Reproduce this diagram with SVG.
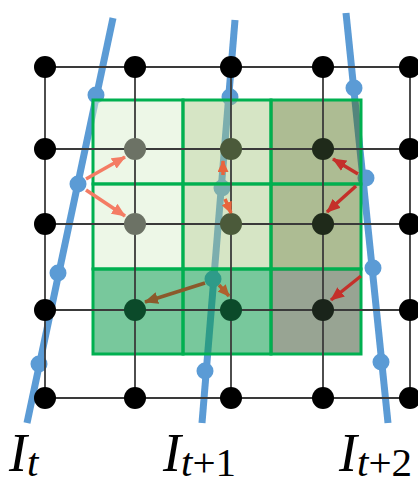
<svg xmlns="http://www.w3.org/2000/svg" width="418" height="481" viewBox="0 0 418 481">
<style>
.bl{stroke:#5b9bd5;stroke-width:7;fill:none}
.bd{fill:#5b9bd5}
.cell{stroke:#00b050;stroke-width:3}
.grid{stroke:#3a3a3a;stroke-width:1.8;fill:none}
.dot{stroke:none}
.arr{fill:none;stroke-width:3.5}
.lbl{font-family:"Liberation Serif","Times New Roman",serif;font-size:54px;font-style:italic;fill:#000}
.sub{font-size:41px}
.up{font-style:normal}
</style>
<defs>
<marker id="hS" markerUnits="userSpaceOnUse" markerWidth="14" markerHeight="12" refX="13" refY="6" orient="auto"><path d="M0,0 L14,6 L0,12 z" fill="#f47c64"/></marker>
<marker id="hO" markerUnits="userSpaceOnUse" markerWidth="12" markerHeight="11" refX="11" refY="5.5" orient="auto"><path d="M0,0 L12,5.5 L0,11 z" fill="#e8643c"/></marker>
<marker id="hR" markerUnits="userSpaceOnUse" markerWidth="14" markerHeight="12" refX="13" refY="6" orient="auto"><path d="M0,0 L14,6 L0,12 z" fill="#c4302a"/></marker>
<marker id="hB" markerUnits="userSpaceOnUse" markerWidth="14" markerHeight="12" refX="13" refY="6" orient="auto"><path d="M0,0 L14,6 L0,12 z" fill="#8b5a2b"/></marker>
<marker id="hB2" markerUnits="userSpaceOnUse" markerWidth="12" markerHeight="11" refX="11" refY="5.5" orient="auto"><path d="M0,0 L12,5.5 L0,11 z" fill="#b0602e"/></marker>
</defs>

<g id="frames">
<g id="frame-It">
<line class="bl" x1="113" y1="18" x2="27" y2="423"/>
<circle class="bd" cx="96" cy="95" r="8.5"/>
<circle class="bd" cx="78" cy="184" r="8.5"/>
<circle class="bd" cx="58" cy="273" r="8.5"/>
<circle class="bd" cx="39" cy="364" r="8.5"/>
</g>
<g id="frame-It1">
<line class="bl" x1="235" y1="20" x2="202" y2="423"/>
<circle class="bd" cx="230" cy="97" r="8.5"/>
<circle class="bd" cx="222" cy="188" r="8.5"/>
<circle class="bd" cx="213" cy="279" r="8.5"/>
<circle class="bd" cx="205" cy="371" r="8.5"/>
</g>
<g id="frame-It2">
<line class="bl" x1="346" y1="13" x2="388" y2="423"/>
<circle class="bd" cx="354" cy="88" r="8.5"/>
<circle class="bd" cx="366" cy="178" r="8.5"/>
<circle class="bd" cx="373" cy="268" r="8.5"/>
<circle class="bd" cx="381" cy="362" r="8.5"/>
</g>
</g>

<g id="cells">
<rect id="c11" class="cell" x="93" y="100" width="90" height="84" fill="#dcefd0" fill-opacity="0.5"/>
<rect id="c12" class="cell" x="183" y="100" width="88" height="84" fill="#a5c67f" fill-opacity="0.455"/>
<rect id="c13" class="cell" x="271" y="100" width="90" height="84" fill="#4a6a10" fill-opacity="0.45"/>
<rect id="c21" class="cell" x="93" y="184" width="90" height="85" fill="#dcefd0" fill-opacity="0.5"/>
<rect id="c22" class="cell" x="183" y="184" width="88" height="85" fill="#a5c67f" fill-opacity="0.455"/>
<rect id="c23" class="cell" x="271" y="184" width="90" height="85" fill="#4a6a10" fill-opacity="0.45"/>
<rect id="c31" class="cell" x="93" y="269" width="90" height="85" fill="#0a9a4a" fill-opacity="0.55"/>
<rect id="c32" class="cell" x="183" y="269" width="88" height="85" fill="#0a9a4a" fill-opacity="0.55"/>
<rect id="c33" class="cell" x="271" y="269" width="90" height="85" fill="#3a5030" fill-opacity="0.52"/>
</g>

<g id="grid" class="grid">
<line x1="45" y1="67" x2="410" y2="67"/>
<line x1="45" y1="149" x2="410" y2="149"/>
<line x1="45" y1="224" x2="410" y2="224"/>
<line x1="45" y1="310" x2="410" y2="310"/>
<line x1="45" y1="398" x2="410" y2="398"/>
<line x1="45" y1="67" x2="45" y2="398"/>
<line x1="135" y1="67" x2="135" y2="398"/>
<line x1="231" y1="67" x2="231" y2="398"/>
<line x1="323" y1="67" x2="323" y2="398"/>
<line x1="410" y1="67" x2="410" y2="398"/>
</g>

<g id="nodes">
<circle id="n00" class="dot" cx="45" cy="67" r="11" fill="#000"/>
<circle id="n01" class="dot" cx="135" cy="67" r="11" fill="#000"/>
<circle id="n02" class="dot" cx="231" cy="67" r="11" fill="#000"/>
<circle id="n03" class="dot" cx="323" cy="67" r="11" fill="#000"/>
<circle id="n04" class="dot" cx="410" cy="67" r="11" fill="#000"/>
<circle id="n10" class="dot" cx="45" cy="149" r="11" fill="#000"/>
<circle id="n11" class="dot" cx="135" cy="149" r="11" fill="#6c7265"/>
<circle id="n12" class="dot" cx="231" cy="149" r="11" fill="#4b5a3a"/>
<circle id="n13" class="dot" cx="323" cy="149" r="11" fill="#1f2a1a"/>
<circle id="n14" class="dot" cx="410" cy="149" r="11" fill="#000"/>
<circle id="n20" class="dot" cx="45" cy="224" r="11" fill="#000"/>
<circle id="n21" class="dot" cx="135" cy="224" r="11" fill="#6c7265"/>
<circle id="n22" class="dot" cx="231" cy="224" r="11" fill="#4b5a3a"/>
<circle id="n23" class="dot" cx="323" cy="224" r="11" fill="#1f2a1a"/>
<circle id="n24" class="dot" cx="410" cy="224" r="11" fill="#000"/>
<circle id="n30" class="dot" cx="45" cy="310" r="11" fill="#000"/>
<circle id="n31" class="dot" cx="135" cy="310" r="11" fill="#0b4a2a"/>
<circle id="n32" class="dot" cx="231" cy="310" r="11" fill="#0b4a2a"/>
<circle id="n33" class="dot" cx="323" cy="310" r="11" fill="#1a241a"/>
<circle id="n34" class="dot" cx="410" cy="310" r="11" fill="#000"/>
<circle id="n40" class="dot" cx="45" cy="398" r="11" fill="#000"/>
<circle id="n41" class="dot" cx="135" cy="398" r="11" fill="#000"/>
<circle id="n42" class="dot" cx="231" cy="398" r="11" fill="#000"/>
<circle id="n43" class="dot" cx="323" cy="398" r="11" fill="#000"/>
<circle id="n44" class="dot" cx="410" cy="398" r="11" fill="#000"/>
</g>

<g id="connectors" class="arr">
<line x1="86" y1="179" x2="125" y2="157" stroke="#f47c64" marker-end="url(#hS)"/>
<line x1="86" y1="190" x2="125" y2="216" stroke="#f47c64" marker-end="url(#hS)"/>
<line x1="223" y1="175" x2="223" y2="161" stroke="#e8643c" marker-end="url(#hO)"/>
<line x1="225" y1="199" x2="231" y2="213" stroke="#e8643c" marker-end="url(#hO)"/>
<line x1="358" y1="174" x2="333" y2="159" stroke="#c4302a" marker-end="url(#hR)"/>
<line x1="356" y1="186" x2="327" y2="212" stroke="#c4302a" marker-end="url(#hR)"/>
<line x1="361" y1="276" x2="331" y2="300" stroke="#c4302a" marker-end="url(#hR)"/>
<line x1="205" y1="283" x2="145" y2="302" stroke="#8b5a2b" marker-end="url(#hB)"/>
<line x1="219" y1="285" x2="229" y2="296" stroke="#b0602e" marker-end="url(#hB2)"/>
</g>

<g id="labels">
<text class="lbl" x="9" y="471">I<tspan class="sub" dy="5">t</tspan></text>
<text class="lbl" x="163" y="471">I<tspan class="sub" dy="5">t</tspan><tspan class="sub up">+1</tspan></text>
<text class="lbl" x="339" y="471">I<tspan class="sub" dy="5">t</tspan><tspan class="sub up">+2</tspan></text>
</g>
</svg>
